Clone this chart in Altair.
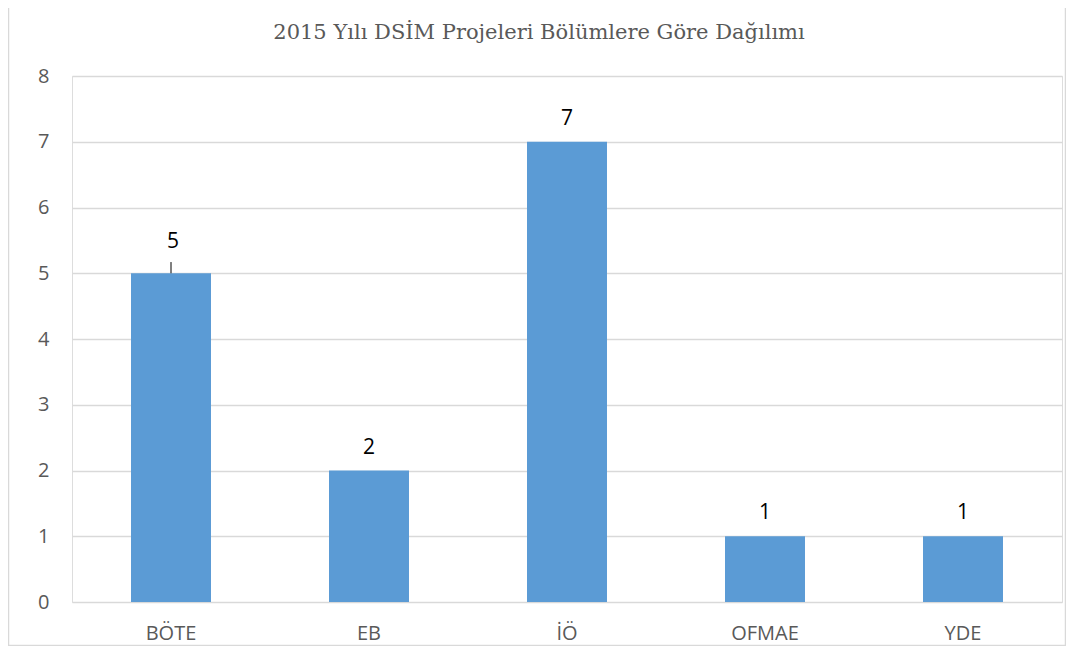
import altair as alt
import pandas as pd

categories = ["BÖTE", "EB", "İÖ", "OFMAE", "YDE"]
counts = [5, 2, 7, 1, 1]
y_ticks = [0, 1, 2, 3, 4, 5, 6, 7, 8]
title_text = "2015 Yılı DSİM Projeleri Bölümlere Göre Dağılımı"

df = pd.DataFrame({"category": categories, "count": counts})

W, H = 990, 526
BAR = "#5B9BD5"
GRID = "#D9D9D9"
TXT = "#595959"
SANS = "Open Sans"

x_enc = alt.X("category:N", sort=categories, title=None,
              scale=alt.Scale(paddingInner=0.596, paddingOuter=0.298),
              axis=alt.Axis(labelAngle=0, ticks=False, domain=False, labelFont=SANS,
                            labelFontSize=20, labelColor=TXT, labelBaseline="middle",
                            labelPadding=31))
y_enc = alt.Y("count:Q", title=None,
              scale=alt.Scale(domain=[0, 8], nice=False),
              axis=alt.Axis(values=y_ticks, format="d", ticks=False, domain=False, grid=True,
                            gridColor=GRID, gridWidth=1.3, labelFont=SANS,
                            labelFontSize=20, labelColor=TXT, labelPadding=23,
                            labelBaseline="middle"))

base = alt.Chart(df)

bars = base.mark_bar(color=BAR).encode(x=x_enc, y=y_enc)

labels = base.transform_filter(alt.datum.category != "BÖTE").mark_text(
    font=SANS, fontSize=21, color="#000000", baseline="middle", dy=-23
).encode(x=alt.X("category:N", sort=categories), y="count:Q", text="count:Q")

label5 = base.transform_filter(alt.datum.category == "BÖTE").mark_text(
    font=SANS, fontSize=21, color="#000000", baseline="middle", dy=-31, dx=2
).encode(x=alt.X("category:N", sort=categories), y="count:Q", text="count:Q")

leader = base.transform_filter(alt.datum.category == "BÖTE").transform_calculate(
    top="datum.count + 0.17"
).mark_rule(color="#000000", strokeWidth=1).encode(
    x=alt.X("category:N", sort=categories), y="count:Q", y2="top:Q")

title = alt.Chart(pd.DataFrame({"t": [title_text]})).mark_text(
    font="DejaVu Serif", fontSize=21, color=TXT, baseline="middle", align="center"
).encode(x=alt.value(W / 2 - 28), y=alt.value(-43), text="t:N")

border = alt.Chart(pd.DataFrame({"b": [0]})).mark_rect(
    fill=None, fillOpacity=0, stroke=GRID, strokeWidth=1.5
).encode(x=alt.value(-63.5), x2=alt.value(993.5), y=alt.value(-100), y2=alt.value(569.5))

chart = alt.layer(border, bars, leader, labels, label5, title).properties(
    width=W, height=H,
    autosize=alt.AutoSizeParams(type="none"),
    padding={"left": 64, "top": 68, "right": 4, "bottom": 44},
).configure_view(stroke=None).configure(background="white")

chart.save("out.html", embed_options={"renderer": "svg", "actions": False})
